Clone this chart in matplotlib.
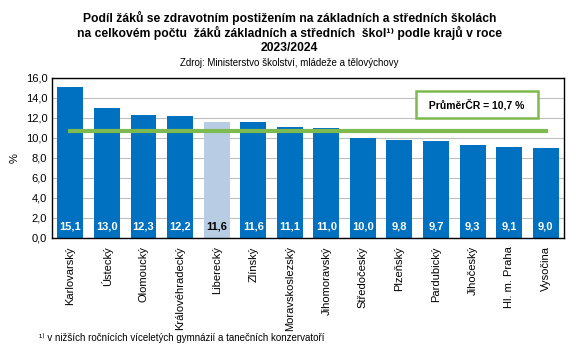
import numpy as np
import matplotlib.pyplot as plt

plt.rcParams['font.family'] = ['Liberation Sans', 'DejaVu Sans']

# Data
kraje = ["Karlovarský", "Ústecký", "Olomoucký", "Královéhradecký", "Liberecký",
         "Zlínský", "Moravskoslezský", "Jihomoravský", "Středočeský", "Plzeňský",
         "Pardubický", "Jihočeský", "Hl. m. Praha", "Vysočina"]
podil = [15.1, 13.0, 12.3, 12.2, 11.6, 11.6, 11.1, 11.0, 10.0, 9.8, 9.7, 9.3, 9.1, 9.0]
prumer_cr = 10.7
zvyrazneny = "Liberecký"

modra = "#0070C0"
svetla = "#B8CCE4"
zelena = "#7DBB50"

fig = plt.figure(figsize=(5.79, 3.54), dpi=100)
ax = fig.add_axes([0.090, 0.328, 0.884, 0.452])

x = np.arange(len(kraje))
barvy = [svetla if k == zvyrazneny else modra for k in kraje]
ax.bar(x, podil, width=0.71, color=barvy, zorder=2)

# popisky hodnot
for xi, k, v in zip(x, kraje, podil):
    ax.text(xi, 1.1, f"{v:.1f}".replace(".", ","), ha="center", va="center",
            fontsize=8, fontweight="bold",
            color="black" if k == zvyrazneny else "white", zorder=3)

# průměr ČR
ax.plot([x[0], x[-1]], [prumer_cr, prumer_cr], color=zelena, lw=3, zorder=4)
ax.text(11.12, 13.35, "  PrůměrČR = " + f"{prumer_cr:.1f}".replace(".", ",") + " %  ",
        ha="center", va="center", fontsize=7.5, fontweight="bold",
        bbox=dict(boxstyle="square,pad=0.75", fc="white", ec=zelena, lw=1.8),
        zorder=5)

ax.set_xlim(-0.5, len(kraje) - 0.5)
ax.set_ylim(0, 16)
ax.set_yticks(np.arange(0, 16.1, 2))
ax.set_yticklabels([f"{t:.1f}".replace(".", ",") for t in np.arange(0, 16.1, 2)])
ax.set_xticks(x)
ax.set_xticklabels(kraje, rotation=90)
ax.tick_params(axis="both", labelsize=8, length=0)
ax.tick_params(axis="x", pad=6)
ax.set_ylabel("%", fontsize=8)
ax.grid(axis="y", color="#BFBFBF", lw=0.8, zorder=1)
for s in ax.spines.values():
    s.set_linewidth(1.0)

# titulek po řádcích
radky = ["Podíl žáků se zdravotním postižením na základních a středních školách",
         "na celkovém počtu  žáků základních a středních  škol¹⁾ podle krajů v roce",
         "2023/2024"]
for i, r in enumerate(radky):
    fig.text(0.5, 0.949 - i * 0.0424, r, ha="center", va="center",
             fontsize=8.7, fontweight="bold")
fig.text(0.5, 0.822, "Zdroj: Ministerstvo školství, mládeže a tělovýchovy",
         ha="center", va="center", fontsize=7)
fig.text(0.068, 0.045, "¹⁾ v nižších ročnících víceletých gymnázií a tanečních konzervatoří",
         ha="left", va="center", fontsize=7)

fig.savefig("out.png", dpi=100)
